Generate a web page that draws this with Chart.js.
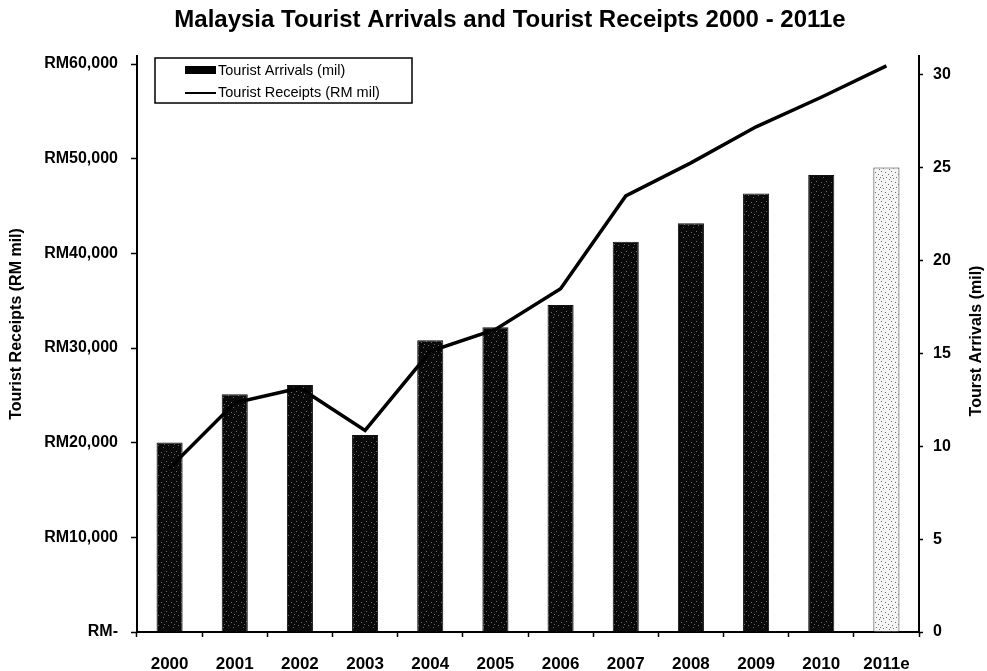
<!DOCTYPE html>
<html>
<head>
<meta charset="utf-8">
<title>Malaysia Tourist Arrivals and Tourist Receipts</title>
<script src="https://cdn.jsdelivr.net/npm/chart.js@4/dist/chart.umd.min.js"></script>
<style>
  html, body { margin: 0; padding: 0; background: #fff; }
  #wrap { width: 987px; height: 671px; position: relative; }
</style>
</head>
<body>
<div id="wrap"><canvas id="grafico"></canvas></div>
<script>
const years = ["2000", "2001", "2002", "2003", "2004", "2005", "2006", "2007", "2008", "2009", "2010", "2011e"];
// tourist arrivals, millions (right axis)
const arrivals = [10.2, 12.8, 13.3, 10.6, 15.7, 16.4, 17.6, 21.0, 22.0, 23.6, 24.6, 25.0];
// tourist receipts, RM million (left axis)
const receipts = [17335, 24221, 25781, 21291, 29651, 31954, 36271, 46070, 49561, 53367, 56492, 59800];
const receiptTicks = [0, 10000, 20000, 30000, 40000, 50000, 60000];
const arrivalTicks = [0, 5, 10, 15, 20, 25, 30];

const titulo = "Malaysia Tourist Arrivals and Tourist Receipts 2000 - 2011e";
const FONTE = "'Liberation Sans', Arial, sans-serif";

// speckled fills like the scanned bars
function criarPadrao(fundo, ponto, pontos) {
  const c = document.createElement("canvas");
  c.width = 10;
  c.height = 10;
  const g = c.getContext("2d");
  g.fillStyle = fundo;
  g.fillRect(0, 0, 10, 10);
  g.fillStyle = ponto;
  pontos.forEach(p => g.fillRect(p[0], p[1], 1, 1));
  return g.createPattern(c, "repeat");
}

const padraoEscuro = criarPadrao("#0a0a0a", "#6a6a6a", [[1, 2], [6, 1], [3, 7], [8, 5], [4, 4]]);
const padraoClaro = criarPadrao("#f4f4f4", "#707070", [[1, 1], [5, 2], [8, 4], [2, 5], [6, 7], [3, 8], [9, 9], [0, 7]]);

const coresBarras = years.map((y, i) => i === years.length - 1 ? padraoClaro : padraoEscuro);
const bordasBarras = years.map((y, i) => i === years.length - 1 ? "#333" : "#111");

const pluginTexto = {
  id: "pluginTexto",
  afterDraw(chart) {
    const ctx = chart.ctx;
    ctx.save();
    ctx.fillStyle = "#000";

    // title
    ctx.font = "bold 24px " + FONTE;
    ctx.textAlign = "center";
    ctx.textBaseline = "middle";
    ctx.fillText(titulo, 510, 20);

    // axis titles
    ctx.font = "bold 16px " + FONTE;
    ctx.save();
    ctx.translate(17, 324);
    ctx.rotate(-Math.PI / 2);
    ctx.fillText("Tourist Receipts (RM mil)", 0, 0);
    ctx.restore();

    ctx.save();
    ctx.translate(977, 341);
    ctx.rotate(-Math.PI / 2);
    ctx.fillText("Tourst Arrivals (mil)", 0, 0);
    ctx.restore();

    // legend
    ctx.fillStyle = "#fff";
    ctx.fillRect(155, 58, 257, 45);
    ctx.strokeStyle = "#000";
    ctx.lineWidth = 1.5;
    ctx.strokeRect(155, 58, 257, 45);

    ctx.fillStyle = "#000";
    ctx.fillRect(185, 66, 31, 8);
    ctx.beginPath();
    ctx.lineWidth = 2;
    ctx.moveTo(185, 93);
    ctx.lineTo(216, 93);
    ctx.stroke();

    ctx.font = "14.5px " + FONTE;
    ctx.textAlign = "left";
    ctx.fillText(chart.data.datasets[1].label, 218, 71);
    ctx.fillText(chart.data.datasets[0].label, 218, 93);
    ctx.restore();
  }
};

const ctx = document.getElementById("grafico").getContext("2d");

new Chart(ctx, {
  data: {
    labels: years,
    datasets: [
      {
        type: "line",
        label: "Tourist Receipts (RM mil)",
        data: receipts,
        yAxisID: "yReceipts",
        borderColor: "#000",
        borderWidth: 3.5,
        pointRadius: 0,
        tension: 0,
        order: 0
      },
      {
        type: "bar",
        label: "Tourist Arrivals (mil)",
        data: arrivals,
        yAxisID: "yArrivals",
        backgroundColor: coresBarras,
        borderColor: bordasBarras,
        borderWidth: 1,
        barPercentage: 0.4,
        categoryPercentage: 1,
        order: 1
      }
    ]
  },
  options: {
    responsive: true,
    maintainAspectRatio: false,
    animation: false,
    layout: { padding: { top: 56, left: 0, right: 0, bottom: 0 } },
    plugins: {
      legend: { display: false },
      title: { display: false },
      tooltip: { enabled: false }
    },
    scales: {
      x: {
        grid: { display: true, drawOnChartArea: false, offset: true, tickLength: 5, color: "#000", tickWidth: 1.5 },
        border: { color: "#000", width: 2 },
        ticks: { color: "#000", font: { family: FONTE, size: 17, weight: "bold" }, padding: 17, maxRotation: 0 },
        afterFit(scale) { scale.height = 39; }
      },
      yReceipts: {
        position: "left",
        min: 0,
        max: 60850,
        afterBuildTicks(scale) { scale.ticks = receiptTicks.map(v => ({ value: v })); },
        grid: { drawOnChartArea: false, tickLength: 6, color: "#000", tickWidth: 1.5 },
        border: { color: "#000", width: 2 },
        ticks: {
          color: "#000",
          font: { family: FONTE, size: 16, weight: "bold" },
          padding: 13,
          callback: v => v === 0 ? "RM-" : "RM" + v.toLocaleString("en-US")
        },
        afterFit(scale) { scale.width = 137; }
      },
      yArrivals: {
        position: "right",
        min: 0,
        max: 31,
        afterBuildTicks(scale) { scale.ticks = arrivalTicks.map(v => ({ value: v })); },
        grid: { drawOnChartArea: false, tickLength: 4, color: "#000", tickWidth: 1.5 },
        border: { color: "#000", width: 2 },
        ticks: { color: "#000", font: { family: FONTE, size: 16, weight: "bold" }, padding: 10 },
        afterFit(scale) { scale.width = 68; }
      }
    }
  },
  plugins: [pluginTexto]
});
</script>
</body>
</html>
